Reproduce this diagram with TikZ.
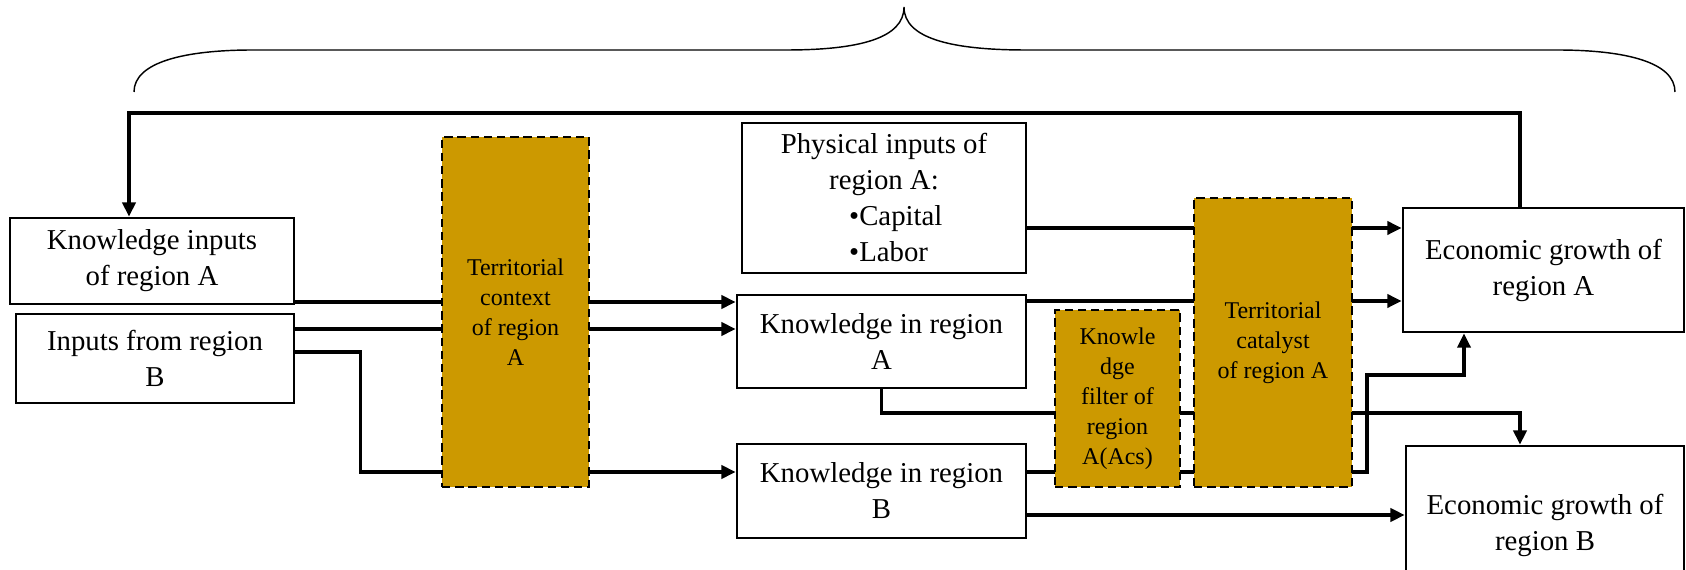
\documentclass[tikz,border=0pt]{standalone}
\usepackage{fontspec}
\setmainfont{Liberation Serif}
\usetikzlibrary{shapes, arrows.meta, positioning, backgrounds}
\definecolor{goldbox}{RGB}{204,153,0}

\begin{document}
\begin{tikzpicture}[
        x=0.4167pt, y=-0.4167pt,
        block/.style={rectangle, draw=black, line width=1.1pt, fill=white, align=center, inner sep=0pt, font=\fontsize{12}{15}\selectfont},
        filterbox/.style={rectangle, draw=black, line width=0.5pt, dash pattern=on 3.5pt off 2pt, fill=goldbox, align=center, inner sep=0pt, font=\fontsize{10}{12.5}\selectfont},
        link/.style={line width=1.4pt},
        flow/.style={link, -{Triangle[length=6pt, width=5.5pt]}},
        brace/.style={line width=0.6pt}
    ]
        \useasboundingbox (0,0) rectangle (1686,570);
        % Blocks
        \node[block, minimum width=118.3pt, minimum height=35.8pt] (kin) at (152,261) {Knowledge inputs\\of region A};
        \node[block, minimum width=115.8pt, minimum height=37.1pt] (inb) at (155,358.5) {Inputs from region\\B};
        \node[filterbox, minimum width=61.3pt, minimum height=145.8pt] (ctx) at (515.5,312) {Territorial\\context\\of region\\A};
        \node[block, minimum width=118.3pt, minimum height=62.5pt] (phys) at (884,198) {
            Physical inputs of\\
            region A:\\
            \makebox[29pt][l]{•Capital}\\
            \makebox[29pt][l]{•Labor}
        };
        \node[block, minimum width=120.4pt, minimum height=38.8pt] (ka) at (881.5,341.5) {Knowledge in region\\A};
        \node[block, minimum width=120.4pt, minimum height=39.2pt] (kb) at (881.5,491) {Knowledge in region\\B};
        \node[filterbox, minimum width=52.1pt, minimum height=73.8pt] (filt) at (1117.5,398.5) {Knowle\\dge\\filter of\\region\\A(Acs)};
        \node[filterbox, minimum width=65.8pt, minimum height=120.4pt] (cat) at (1273,342.5) {Territorial\\catalyst\\of region A};
        \node[block, minimum width=117.1pt, minimum height=51.7pt] (ega) at (1543.5,270) {Economic growth of\\region A};
        \node[block, minimum width=115.8pt, minimum height=65.8pt] (egb) at (1545,525) {Economic growth of\\region B};
        % Brace
        \draw[brace] (134,92) .. controls (134,62) and (185,50) .. (253,50) -- (786,50)
            .. controls (860,50) and (904,38) .. (904,7)
            .. controls (904,38) and (950,50) .. (1026,50) -- (1557,50)
            .. controls (1625,50) and (1675,62) .. (1675,92);
        % Links
        \begin{pgfonlayer}{background}
            \draw[flow] (ega.north -| 1520,0) |- (129,113) -- (kin.north -| 129,0);
            \draw[flow] (kin.east |- 0,302) -- (ka.west |- 0,302);
            \draw[flow] (inb.east |- 0,329) -- (ka.west |- 0,329);
            \draw[flow] (inb.east |- 0,352) -- ++(65,0) |- (kb.west |- 0,472);
            \draw[flow] (phys.east |- 0,228) -- (ega.west |- 0,228);
            \draw[flow] (ka.east |- 0,301) -- (ega.west |- 0,301);
            \draw[flow] (ka.south) |- (1520,413) -- (egb.north -| 1520,0);
            \draw[flow] (kb.east |- 0,472) -- (1367,472) |- (1464,375) -- (ega.south -| 1464,0);
            \draw[flow] (kb.east |- 0,515) -- (egb.west |- 0,515);
        \end{pgfonlayer}
\end{tikzpicture}
\end{document}
